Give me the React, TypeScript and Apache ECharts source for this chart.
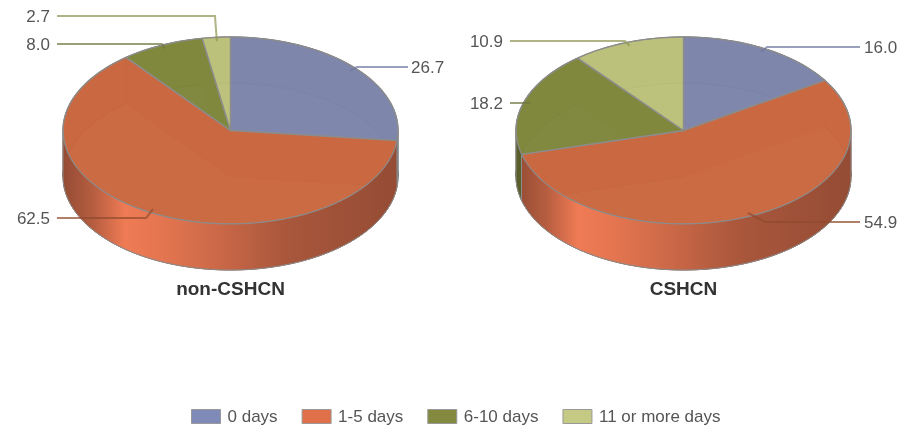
import React, { useEffect, useRef } from "react";
import * as echarts from "echarts";

const categories = ["0 days", "1-5 days", "6-10 days", "11 or more days"];
const nonCshcn = [26.7, 62.5, 8.0, 2.7];
const cshcn = [16.0, 54.9, 18.2, 10.9];
const pieNames = ["non-CSHCN", "CSHCN"];

const topColors = ["#7f86ab", "#c96841", "#80883f", "#bbc07b"];
const legendColors = ["#7f8ab8", "#e0704a", "#83893e", "#c4c983"];
const wallColors = ["#8a92bd", "#ef7b54", "#8d9444", "#cfd488"];
const lineColors = ["#6f769e", "#8f4a2c", "#6f7640", "#8e9450"];

const pieValues = [nonCshcn, cshcn];
const pieCx = [230.5, 683.5];
const pieCy = 130.5;
const RX = 167.5;
const RY = 93.5;
const DEPTH = 46;

const leaderY = [[67, 218, 44, 16], [47, 222, 103, 41]];
const elbowX = [[357, 146, 162, 215], [767, 765, 525, 625]];
const lineEndX = [[408, 57, 57, 57], [860, 860, 510, 510]];
const labelX = [[411, 50, 50, 50], [864, 864, 503, 503]];

const wallStops: [number, number][] = [
  [0, 0.62], [0.09, 0.76], [0.185, 1], [0.3, 0.95], [0.43, 0.87], [0.66, 0.71], [1, 0.62],
];

const rgb = (h: string) => [1, 3, 5].map((i) => parseInt(h.slice(i, i + 2), 16));
const scale = (h: string, f: number) => `rgb(${rgb(h).map((v) => Math.round(v * f)).join(",")})`;
const mixWhite = (h: string, f: number) => `rgb(${rgb(h).map((v) => Math.round(v + (255 - v) * f)).join(",")})`;
const alpha = (h: string, a: number) => `rgba(${rgb(h).join(",")},${a})`;

const RAD = Math.PI / 180;
const pt = (cx: number, cy: number, a: number, r = 1): [number, number] => [
  cx + RX * r * Math.sin(a * RAD),
  cy - RY * r * Math.cos(a * RAD),
];
const arc = (cx: number, cy: number, a0: number, a1: number): [number, number][] => {
  const n = Math.max(2, Math.ceil((a1 - a0) / 2));
  const out: [number, number][] = [];
  for (let i = 0; i <= n; i++) out.push(pt(cx, cy, a0 + ((a1 - a0) * i) / n));
  return out;
};

function makeRenderItem(catIndex: number) {
  return (params: any) => {
    const pie = params.dataIndex;
    const vals = pieValues[pie];
    const total = vals.reduce((s, v) => s + v, 0);
    const before = vals.slice(0, catIndex).reduce((s, v) => s + v, 0);
    const a0 = (before / total) * 360;
    const a1 = ((before + vals[catIndex]) / total) * 360;
    const mid = (a0 + a1) / 2;
    const cx = pieCx[pie];
    const cy = pieCy;
    const top = topColors[catIndex];
    const kids: any[] = [];

    // Bottom face, seen faintly through the translucent top.
    kids.push({
      type: "polygon",
      z2: 1,
      shape: { points: [[cx, cy + DEPTH], ...arc(cx, cy + DEPTH, a0, a1)] },
      style: { fill: mixWhite(top, catIndex === 1 ? 0.3 : 0.08), stroke: scale(top, 0.6), lineWidth: 1 },
    });

    // Outer back walls.
    const back: [number, number][] = [];
    if (a0 < 90) back.push([a0, Math.min(a1, 90)]);
    if (a1 > 270) back.push([Math.max(a0, 270), a1]);
    back.forEach(([b0, b1]) => {
      kids.push({
        type: "polygon",
        z2: 2,
        shape: { points: [...arc(cx, cy, b0, b1), ...arc(cx, cy + DEPTH, b0, b1).reverse()] },
        style: { fill: top, stroke: scale(top, 0.6), lineWidth: 1 },
      });
    });

    // Radial walls; larger slices lie above smaller ones.
    [a0, a1].forEach((a) => {
      const p = pt(cx, cy, a);
      kids.push({
        type: "polygon",
        z2: 3 + vals[catIndex] / total / 2,
        shape: { points: [[cx, cy], p, [p[0], p[1] + DEPTH], [cx, cy + DEPTH]] },
        style: { fill: top },
      });
    });

    // Top face.
    kids.push({
      type: "polygon",
      z2: 4,
      shape: { points: [[cx, cy], ...arc(cx, cy, a0, a1)] },
      style: { fill: alpha(top, 0.94), stroke: "#8c8c8c", lineWidth: 1.4, lineJoin: "round" },
    });

    // Outer front wall.
    const f0 = Math.max(a0, 90);
    const f1 = Math.min(a1, 270);
    if (f1 > f0) {
      const x0 = cx - RX;
      const w = RX * 2;
      const grad = new echarts.graphic.LinearGradient(
        x0, 0, x0 + w, 0,
        wallStops.map(([offset, f]) => ({ offset, color: scale(wallColors[catIndex], f) })),
        true
      );
      kids.push({
        type: "polygon",
        z2: 5,
        shape: { points: [...arc(cx, cy, f0, f1), ...arc(cx, cy + DEPTH, f0, f1).reverse()] },
        style: { fill: grad, stroke: "#8c8c8c", lineWidth: 1, lineJoin: "round" },
      });
    }

    // Leader line and value label.
    const anchor = pt(cx, cy, mid, 0.96);
    const y = leaderY[pie][catIndex];
    kids.push({
      type: "polyline",
      z2: 10,
      shape: { points: [anchor, [elbowX[pie][catIndex], y], [lineEndX[pie][catIndex], y]] },
      style: { fill: "none", stroke: alpha(lineColors[catIndex], 0.7), lineWidth: 2 },
    });
    const lx = labelX[pie][catIndex];
    kids.push({
      type: "text",
      z2: 10,
      style: {
        text: vals[catIndex].toFixed(1),
        x: lx,
        y,
        align: lx < cx ? "right" : "left",
        verticalAlign: "middle",
        fill: "#555555",
        font: '17px "Liberation Sans", Arial, sans-serif',
      },
    });

    return { type: "group", children: kids };
  };
}

export default function App() {
  const ref = useRef<HTMLDivElement>(null);
  useEffect(() => {
    document.body.style.margin = "0";
    document.body.style.background = "#ffffff";
    const chart = echarts.init(ref.current!, null, { renderer: "svg" });
    chart.setOption({
      animation: false,
      backgroundColor: "#ffffff",
      title: pieNames.map((text, i) => ({
        text,
        left: pieCx[i] - 5,
        top: 274,
        textAlign: "center",
        textStyle: {
          fontFamily: '"Liberation Sans", Arial, sans-serif',
          fontSize: 19,
          fontWeight: "bold",
          color: "#333333",
        },
      })),
      legend: {
        left: 191,
        top: 408,
        padding: 0,
        icon: "rect",
        itemWidth: 29,
        itemHeight: 14,
        itemGap: 24,
        selectedMode: false,
        data: categories,
        itemStyle: { borderColor: "#999999", borderWidth: 1 },
        textStyle: {
          fontFamily: '"Liberation Sans", Arial, sans-serif',
          fontSize: 17,
          color: "#555555",
          padding: [0, 0, 0, 2],
        },
      },
      series: categories.map((name, i) => ({
        name,
        type: "custom",
        coordinateSystem: "none",
        itemStyle: { color: legendColors[i] },
        data: pieValues.map((v) => v[i]),
        renderItem: makeRenderItem(i),
      })),
    });
    return () => chart.dispose();
  }, []);
  return <div ref={ref} style={{ width: 898, height: 426, filter: "blur(0.45px)" }} />;
}
